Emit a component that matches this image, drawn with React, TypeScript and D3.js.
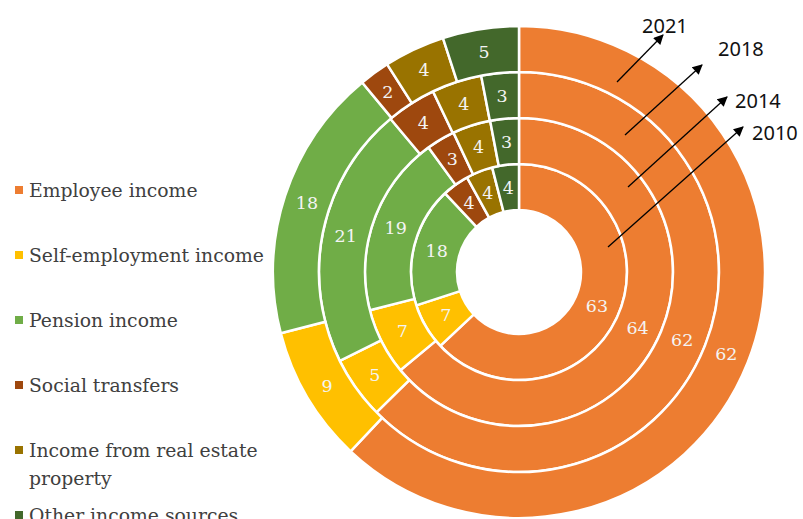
import { useEffect, useRef } from "react";
import * as d3 from "d3";

const categories = [
  "Employee income",
  "Self-employment income",
  "Pension income",
  "Social transfers",
  "Income from real estate property",
  "Other income sources",
];
const colors = ["#ED7D31", "#FFC000", "#70AD47", "#9E480E", "#997300", "#43682B"];

// rings from inner to outer
const years = ["2010", "2014", "2018", "2021"];
const shares2010 = [63, 7, 18, 4, 4, 4];
const shares2014 = [64, 7, 19, 3, 4, 3];
const shares2018 = [62, 5, 21, 4, 4, 3];
const shares2021 = [62, 9, 18, 2, 4, 5];
const rings = [shares2010, shares2014, shares2018, shares2021];

// legend lines (wrapped like the original)
const legendLines = [
  ["Employee income"],
  ["Self-employment income"],
  ["Pension income"],
  ["Social transfers"],
  ["Income from real estate", "property"],
  ["Other income sources"],
];

// arrow annotations: start / tip relative to the chart centre, label pos absolute
const arrows = [
  { year: "2010", from: [89, -25], to: [224, -145], label: [752, 132] },
  { year: "2014", from: [109, -85], to: [208, -175], label: [735, 100] },
  { year: "2018", from: [106, -137], to: [183, -207], label: [718, 48] },
  { year: "2021", from: [98, -190], to: [144, -237], label: [642, 25] },
];

const W = 803;
const H = 519;

export default function App() {
  const ref = useRef<SVGSVGElement | null>(null);

  useEffect(() => {
    if (!ref.current) return;
    const svg = d3.select(ref.current);
    svg.selectAll("*").remove();

    const cx = 519;
    const cy = 272;
    const r0 = 62;
    const r1 = 246;
    const ringR = d3.scaleLinear().domain([0, years.length]).range([r0, r1]);

    const defs = svg.append("defs");
    defs
      .append("marker")
      .attr("id", "ah")
      .attr("viewBox", "0 0 10 10")
      .attr("refX", 9)
      .attr("refY", 5)
      .attr("markerWidth", 12)
      .attr("markerHeight", 10)
      .attr("markerUnits", "userSpaceOnUse")
      .attr("orient", "auto")
      .append("path")
      .attr("d", "M0,0 L10,5 L0,10 Z")
      .attr("fill", "#000");

    const g = svg.append("g").attr("transform", `translate(${cx},${cy})`);
    const pie = d3.pie<number>().sort(null).value((d) => d);

    rings.forEach((vals, i) => {
      const arc = d3.arc<d3.PieArcDatum<number>>().innerRadius(ringR(i)).outerRadius(ringR(i + 1));
      const arcs = pie(vals);
      const rg = g.append("g");
      rg.selectAll("path")
        .data(arcs)
        .enter()
        .append("path")
        .attr("d", arc)
        .attr("fill", (_, j) => colors[j])
        .attr("stroke", "#fff")
        .attr("stroke-width", 2.5)
        .attr("stroke-linejoin", "round");
      rg.selectAll("text")
        .data(arcs)
        .enter()
        .append("text")
        .attr("transform", (d) => `translate(${arc.centroid(d)})`)
        .attr("text-anchor", "middle")
        .attr("dominant-baseline", "central")
        .style("font-family", "'DejaVu Serif', serif")
        .style("font-size", "17.5px")
        .attr("fill", "#f4f4f4")
        .text((d) => d.data);
    });

    // arrows
    const ag = svg.append("g");
    arrows.forEach((a) => {
      ag.append("line")
        .attr("x1", cx + a.from[0])
        .attr("y1", cy + a.from[1])
        .attr("x2", cx + a.to[0])
        .attr("y2", cy + a.to[1])
        .attr("stroke", "#000")
        .attr("stroke-width", 1.3)
        .attr("marker-end", "url(#ah)");
      ag.append("text")
        .attr("x", a.label[0])
        .attr("y", a.label[1])
        .attr("dominant-baseline", "central")
        .style("font-family", "'Noto Sans', sans-serif")
        .style("font-size", "20px")
        .attr("fill", "#111")
        .text(a.year);
    });

    // legend
    const lg = svg.append("g");
    const rowY = d3.scaleLinear().domain([0, 1]).range([190, 255]);
    legendLines.forEach((lines, i) => {
      const y = rowY(i);
      lg.append("rect")
        .attr("x", 15)
        .attr("y", y - 4)
        .attr("width", 8)
        .attr("height", 8)
        .attr("fill", colors[i]);
      lines.forEach((ln, k) => {
        lg.append("text")
          .attr("x", 29)
          .attr("y", y + k * 28)
          .attr("dominant-baseline", "central")
          .style("font-family", "'DejaVu Serif', serif")
          .style("font-size", "18.8px")
          .attr("fill", "#404040")
          .text(ln);
      });
    });
  }, []);

  return (
    <svg
      ref={ref}
      width={W}
      height={H}
      style={{ position: "absolute", left: 0, top: 0, background: "#fff" }}
    />
  );
}
